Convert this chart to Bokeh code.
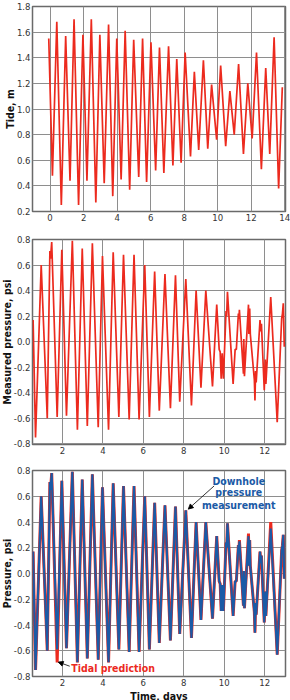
from bokeh.plotting import figure
from bokeh.layouts import column
from bokeh.models import (Range1d, FixedTicker, CustomJSTickFormatter, Arrow, NormalHead,
                          Label, Title)
from bokeh.embed import file_html
from bokeh.resources import INLINE

# ---------------- data ----------------
tide_day = [-0.08, 0.14, 0.40, 0.67, 0.93, 1.19, 1.43, 1.70, 1.96, 2.20, 2.46, 2.73, 2.97, 3.23,
            3.49, 3.74, 3.98, 4.24, 4.48, 4.75, 4.99, 5.29, 5.52, 5.76, 6.02, 6.30, 6.53, 6.79,
            7.07, 7.33, 7.56, 7.82, 8.06, 8.38, 8.61, 8.87, 9.15, 9.41, 9.64, 9.94, 10.18, 10.48,
            10.73, 10.99, 11.25, 11.54, 11.80, 12.06, 12.32, 12.61, 12.87, 13.11, 13.37, 13.64, 13.86]
tide_m = [1.55, 0.48, 1.68, 0.25, 1.57, 0.44, 1.70, 0.25, 1.58, 0.44, 1.70, 0.27, 1.58, 0.42,
          1.66, 0.32, 1.55, 0.45, 1.61, 0.37, 1.54, 0.47, 1.55, 0.43, 1.52, 0.52, 1.48, 0.50,
          1.49, 0.56, 1.39, 0.58, 1.44, 0.63, 1.29, 0.68, 1.38, 0.69, 1.19, 0.76, 1.34, 0.71,
          1.14, 0.80, 1.35, 0.65, 1.20, 0.77, 1.44, 0.53, 1.32, 0.65, 1.56, 0.38, 1.17]

press_day = [0.55, 0.67, 0.95, 1.25, 1.38, 1.41, 1.47, 1.74, 1.97, 2.20, 2.49, 2.74, 2.98, 3.23,
             3.48, 3.77, 3.98, 4.28, 4.51, 4.79, 5.02, 5.30, 5.54, 5.79, 6.07, 6.30, 6.56, 6.79,
             7.07, 7.34, 7.59, 7.80, 8.10, 8.38, 8.61, 8.85, 9.09, 9.42, 9.63, 9.75, 9.80, 9.85,
             9.90, 9.96, 10.09, 10.12, 10.16, 10.44, 10.54, 10.60, 10.70, 10.73, 10.75, 10.95,
             10.97, 11.00, 11.20, 11.22, 11.26, 11.29, 11.49, 11.52, 11.55, 11.58, 11.77, 11.81,
             11.84, 11.98, 12.03, 12.06, 12.30, 12.62, 12.84, 12.88, 12.92, 12.97]
press_psi = [0.17, -0.75, 0.60, -0.60, 0.71, 0.65, 0.78, -0.59, 0.72, -0.58, 0.79, -0.69, 0.73, -0.66,
             0.77, -0.67, 0.67, -0.69, 0.70, -0.59, 0.68, -0.61, 0.68, -0.61, 0.60, -0.59, 0.55, -0.54,
             0.53, -0.52, 0.52, -0.47, 0.49, -0.50, 0.40, -0.36, 0.40, -0.35, 0.29, -0.06, -0.08, -0.29,
             -0.09, -0.29, 0.24, 0.20, 0.39, -0.33, -0.06, -0.06, 0.22, 0.18, 0.25, -0.25,
             0.02, -0.27, 0.29, 0.06, 0.26, 0.06, -0.30, -0.46, -0.23, -0.32, 0.17, 0.08,
             0.14, -0.38, -0.14, -0.33, 0.35, -0.63, 0.18, 0.22, 0.30, -0.04]
pred_psi = [0.17, -0.75, 0.60, -0.60, 0.71, 0.65, 0.78, -0.69, 0.72, -0.58, 0.79, -0.69, 0.73, -0.66,
            0.77, -0.67, 0.67, -0.69, 0.70, -0.59, 0.68, -0.61, 0.68, -0.61, 0.60, -0.59, 0.55, -0.54,
            0.53, -0.52, 0.52, -0.47, 0.49, -0.50, 0.40, -0.36, 0.40, -0.35, 0.29, -0.06, -0.08, -0.29,
            -0.09, -0.29, 0.24, 0.20, 0.39, -0.33, -0.06, -0.06, 0.22, 0.18, 0.26, -0.25,
            0.02, -0.27, 0.31, 0.06, 0.26, 0.06, -0.30, -0.46, -0.23, -0.32, 0.17, 0.08,
            0.14, -0.38, -0.14, -0.33, 0.40, -0.63, 0.18, 0.22, 0.30, -0.04]

tide_xticks = [0, 2, 4, 6, 8, 10, 12, 14]
tide_yticks = [0.2, 0.4, 0.6, 0.8, 1.0, 1.2, 1.4, 1.6, 1.8]
press_xticks = [2, 4, 6, 8, 10, 12]
press_yticks = [-0.8, -0.6, -0.4, -0.2, 0.0, 0.2, 0.4, 0.6, 0.8]

# ---------------- style ----------------
FONT = "DejaVu Sans Condensed"
RED = "#ec2a1e"
BLUE = "#1b5aa6"
GRID = "#8e8e8e"
FRAME = "#6a6a6a"


def make_fig(height, xr, yr, top, bottom):
    p = figure(width=290, height=height, x_range=Range1d(*xr), y_range=Range1d(*yr),
               output_backend="svg", toolbar_location=None,
               min_border_left=31, min_border_right=5,
               min_border_top=top, min_border_bottom=bottom)
    p.outline_line_color = FRAME
    p.outline_line_width = 1.5
    p.background_fill_color = "white"
    p.border_fill_color = "white"
    p.grid.grid_line_color = GRID
    p.grid.grid_line_width = 1
    for ax in (p.xaxis, p.yaxis):
        ax.axis_line_color = None
        ax.major_tick_out = 0
        ax.major_tick_in = 0
        ax.minor_tick_line_color = None
        ax.major_label_standoff = 2
        ax.major_label_text_font = FONT
        ax.major_label_text_font_size = "9.5px"
        ax.major_label_text_color = "#333333"
    p.yaxis.formatter = CustomJSTickFormatter(
        code="return (tick < -1e-9 ? '-' : '') + Math.abs(tick).toFixed(1);")
    return p


def axis_title(p, text, side, standoff):
    p.add_layout(Title(text=text, align="center", standoff=standoff, offset=0,
                       text_font=FONT, text_font_style="bold", text_font_size="10.5px",
                       text_color="#111111"), side)


# Panel 1: tide
p1 = make_fig(229, (-1.05, 14.05), (0.2, 1.8), 6, 18)
p1.xaxis.ticker = FixedTicker(ticks=tide_xticks)
p1.yaxis.ticker = FixedTicker(ticks=tide_yticks)
p1.line(tide_day, tide_m, line_color=RED, line_width=1.7)
axis_title(p1, "Tide, m", "left", -4)

# Panel 2: measured pressure
p2 = make_fig(232, (0.52, 13.03), (-0.805, 0.8), 10, 17)
p2.xaxis.ticker = FixedTicker(ticks=press_xticks)
p2.yaxis.ticker = FixedTicker(ticks=press_yticks)
p2.line(press_day, press_psi, line_color=RED, line_width=1.7)
axis_title(p2, "Measured pressure, psi", "left", -4)

# Panel 3: comparison
p3 = make_fig(239, (0.52, 13.03), (-0.8, 0.8), 9, 24)
p3.xaxis.ticker = FixedTicker(ticks=press_xticks)
p3.yaxis.ticker = FixedTicker(ticks=press_yticks)
p3.line(press_day, pred_psi, line_color=RED, line_width=3.0)
p3.line(press_day, press_psi, line_color=BLUE, line_width=2.1)
axis_title(p3, "Pressure, psi", "left", -4)
axis_title(p3, "Time, days", "below", -2)

p3.add_layout(Arrow(end=NormalHead(size=5, fill_color="black", line_color="black", line_width=0.8),
                    x_start=9.50, y_start=0.68, x_end=8.22, y_end=0.50,
                    line_color="black", line_width=0.8))
for txt, yy in (("Downhole", 0.72), ("pressure", 0.63), ("measurement", 0.535)):
    p3.add_layout(Label(x=10.72, y=yy, text=txt, text_align="center", text_baseline="middle",
                        text_font=FONT, text_font_style="bold", text_font_size="10.5px",
                        text_color=BLUE))

p3.add_layout(Arrow(end=NormalHead(size=5, fill_color="black", line_color="black", line_width=0.8),
                    x_start=2.36, y_start=-0.72, x_end=1.79, y_end=-0.688,
                    line_color="black", line_width=0.8))
p3.add_layout(Label(x=2.44, y=-0.735, text="Tidal prediction", text_align="left",
                    text_baseline="middle", text_font=FONT, text_font_style="bold",
                    text_font_size="10.5px", text_color=RED))

layout = column(p1, p2, p3, spacing=0)
open("out.html", "w", encoding="utf-8").write(file_html(layout, INLINE))
